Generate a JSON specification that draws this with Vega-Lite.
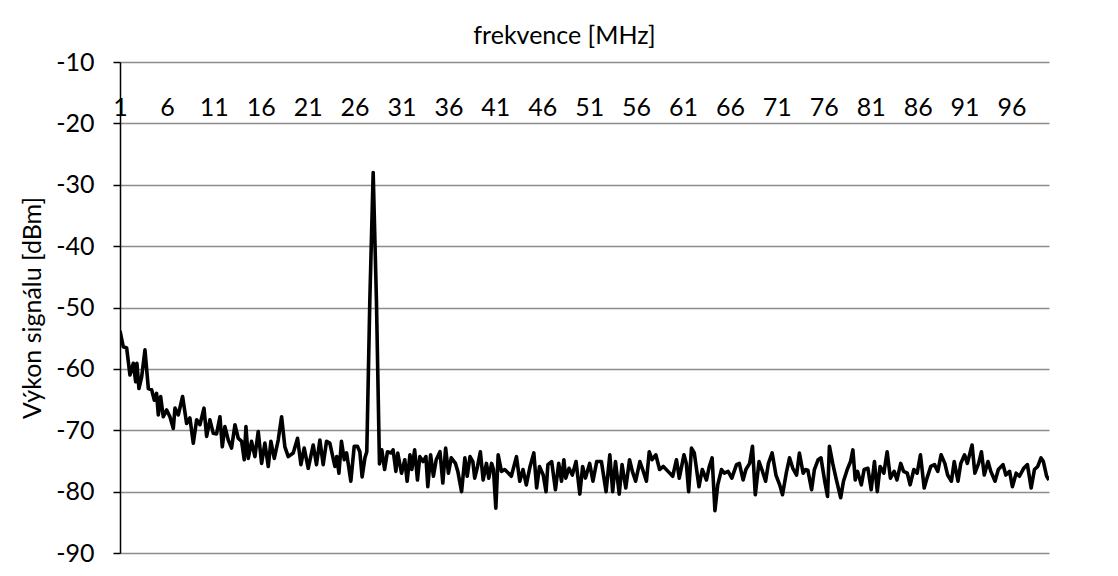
{
  "$schema": "https://vega.github.io/schema/vega-lite/v6.json",
  "width": 929,
  "height": 491,
  "autosize": "none",
  "padding": {"left": 120, "top": 62, "right": 69, "bottom": 23},
  "background": "white",
  "config": {"view": {"stroke": null}, "font": "Lato"},
  "data": {"values": [
    {"f":1.0,"p":-53.8},{"f":1.35,"p":-56.4},{"f":1.71,"p":-56.6},{"f":2.06,"p":-61.0},{"f":2.42,"p":-59.1},{"f":2.67,"p":-62.1},{"f":2.8,"p":-59.1},{"f":3.02,"p":-63.2},{"f":3.31,"p":-61.3},{"f":3.66,"p":-56.9},
    {"f":4.02,"p":-63.2},{"f":4.37,"p":-63.4},{"f":4.66,"p":-65.1},{"f":4.9,"p":-64.0},{"f":5.08,"p":-67.5},{"f":5.33,"p":-64.5},{"f":5.61,"p":-67.8},{"f":5.97,"p":-66.7},{"f":6.32,"p":-67.8},{"f":6.68,"p":-69.7},
    {"f":6.86,"p":-66.4},{"f":7.21,"p":-67.5},{"f":7.67,"p":-64.5},{"f":8.1,"p":-68.9},{"f":8.45,"p":-68.0},{"f":8.81,"p":-72.1},{"f":9.17,"p":-68.3},{"f":9.52,"p":-69.1},{"f":9.95,"p":-66.4},{"f":10.23,"p":-71.0},
    {"f":10.58,"p":-68.3},{"f":10.94,"p":-70.5},{"f":11.29,"p":-70.6},{"f":11.65,"p":-67.8},{"f":11.9,"p":-72.7},{"f":12.18,"p":-69.4},{"f":12.54,"p":-71.6},{"f":12.89,"p":-72.9},{"f":13.25,"p":-69.1},{"f":13.6,"p":-71.3},
    {"f":13.96,"p":-71.8},{"f":14.24,"p":-74.8},{"f":14.42,"p":-69.4},{"f":14.67,"p":-74.6},{"f":15.02,"p":-71.8},{"f":15.38,"p":-74.3},{"f":15.73,"p":-70.2},{"f":16.09,"p":-75.4},{"f":16.44,"p":-72.1},{"f":16.8,"p":-75.9},
    {"f":17.08,"p":-71.8},{"f":17.44,"p":-74.6},{"f":17.86,"p":-71.6},{"f":18.22,"p":-67.8},{"f":18.57,"p":-72.7},{"f":18.93,"p":-74.3},{"f":19.46,"p":-73.7},{"f":19.92,"p":-71.3},{"f":20.28,"p":-75.6},{"f":20.63,"p":-72.9},
    {"f":21.06,"p":-76.2},{"f":21.59,"p":-72.4},{"f":21.94,"p":-75.6},{"f":22.3,"p":-71.6},{"f":22.65,"p":-75.6},{"f":23.01,"p":-71.8},{"f":23.36,"p":-72.1},{"f":23.9,"p":-75.9},{"f":24.1,"p":-74.3},{"f":24.33,"p":-77.0},
    {"f":24.6,"p":-71.8},{"f":24.9,"p":-74.8},{"f":25.15,"p":-73.7},{"f":25.6,"p":-78.3},{"f":25.96,"p":-72.6},{"f":26.3,"p":-72.6},{"f":26.56,"p":-73.5},{"f":26.8,"p":-77.6},{"f":27.1,"p":-74.5},{"f":27.3,"p":-73.5},
    {"f":27.62,"p":-49},{"f":27.98,"p":-28},{"f":28.33,"p":-49},{"f":28.65,"p":-75.5},{"f":28.9,"p":-73.2},{"f":29.2,"p":-76.4},{"f":29.5,"p":-73.5},{"f":29.9,"p":-73.7},{"f":30.1,"p":-73.2},{"f":30.4,"p":-76.7},
    {"f":30.6,"p":-73.7},{"f":31.0,"p":-77.0},{"f":31.35,"p":-74.8},{"f":31.6,"p":-78.3},{"f":31.9,"p":-74.0},{"f":32.1,"p":-76.4},{"f":32.4,"p":-73.2},{"f":32.7,"p":-78.1},{"f":32.95,"p":-74.3},{"f":33.3,"p":-75.1},
    {"f":33.6,"p":-74.3},{"f":33.8,"p":-79.2},{"f":34.1,"p":-74.0},{"f":34.4,"p":-77.5},{"f":34.7,"p":-74.8},{"f":35.1,"p":-73.5},{"f":35.4,"p":-78.6},{"f":35.7,"p":-72.9},{"f":36.0,"p":-77.0},{"f":36.3,"p":-74.5},
    {"f":36.75,"p":-75.4},{"f":37.0,"p":-76.7},{"f":37.4,"p":-80.0},{"f":37.75,"p":-74.5},{"f":38.0,"p":-77.5},{"f":38.3,"p":-74.3},{"f":38.6,"p":-75.1},{"f":38.8,"p":-77.8},{"f":39.1,"p":-75.9},{"f":39.4,"p":-73.5},
    {"f":39.7,"p":-78.1},{"f":40.05,"p":-75.4},{"f":40.3,"p":-77.8},{"f":40.6,"p":-75.4},{"f":40.8,"p":-76.4},{"f":41.05,"p":-82.7},{"f":41.3,"p":-74.0},{"f":41.65,"p":-76.7},{"f":42.0,"p":-76.4},{"f":42.4,"p":-77.0},
    {"f":42.7,"p":-77.5},{"f":43.25,"p":-74.3},{"f":43.6,"p":-78.3},{"f":43.95,"p":-76.4},{"f":44.3,"p":-78.9},{"f":44.7,"p":-75.9},{"f":45.1,"p":-73.7},{"f":45.4,"p":-79.4},{"f":45.7,"p":-75.9},{"f":46.1,"p":-77.3},
    {"f":46.4,"p":-80.0},{"f":46.6,"p":-75.6},{"f":47.0,"p":-75.1},{"f":47.4,"p":-79.7},{"f":47.75,"p":-75.4},{"f":48.05,"p":-78.3},{"f":48.3,"p":-74.8},{"f":48.5,"p":-77.8},{"f":48.85,"p":-76.2},{"f":49.2,"p":-77.3},
    {"f":49.6,"p":-75.1},{"f":50.0,"p":-80.4},{"f":50.3,"p":-75.9},{"f":50.6,"p":-77.8},{"f":51.05,"p":-75.4},{"f":51.4,"p":-78.3},{"f":51.8,"p":-75.1},{"f":52.3,"p":-75.1},{"f":52.8,"p":-80.0},{"f":53.2,"p":-74.0},
    {"f":53.5,"p":-80.0},{"f":53.8,"p":-75.1},{"f":54.2,"p":-80.4},{"f":54.5,"p":-75.6},{"f":54.9,"p":-79.4},{"f":55.3,"p":-74.8},{"f":55.6,"p":-76.7},{"f":55.95,"p":-78.3},{"f":56.4,"p":-75.1},{"f":56.7,"p":-76.4},
    {"f":57.1,"p":-78.3},{"f":57.4,"p":-73.5},{"f":57.7,"p":-74.8},{"f":58.1,"p":-74.0},{"f":58.5,"p":-76.4},{"f":58.9,"p":-75.9},{"f":59.4,"p":-76.7},{"f":59.9,"p":-77.5},{"f":60.3,"p":-74.8},{"f":60.6,"p":-77.8},
    {"f":61.1,"p":-74.0},{"f":61.35,"p":-75.4},{"f":61.6,"p":-80.0},{"f":61.9,"p":-72.9},{"f":62.2,"p":-73.7},{"f":62.7,"p":-79.2},{"f":63.05,"p":-76.4},{"f":63.5,"p":-78.1},{"f":63.8,"p":-75.9},{"f":64.1,"p":-74.5},
    {"f":64.4,"p":-83.1},{"f":64.7,"p":-78.9},{"f":65.1,"p":-76.4},{"f":65.4,"p":-77.0},{"f":65.8,"p":-76.7},{"f":66.2,"p":-77.8},{"f":66.7,"p":-75.6},{"f":67.0,"p":-75.4},{"f":67.4,"p":-78.1},{"f":67.7,"p":-76.4},
    {"f":68.1,"p":-75.4},{"f":68.4,"p":-72.6},{"f":68.7,"p":-80.5},{"f":69.1,"p":-75.1},{"f":69.4,"p":-76.4},{"f":69.8,"p":-78.3},{"f":70.1,"p":-75.4},{"f":70.5,"p":-73.7},{"f":70.9,"p":-77.3},{"f":71.3,"p":-78.9},
    {"f":71.6,"p":-80.5},{"f":72.0,"p":-77.0},{"f":72.35,"p":-74.5},{"f":72.7,"p":-76.2},{"f":73.1,"p":-77.3},{"f":73.4,"p":-73.7},{"f":73.8,"p":-77.0},{"f":74.05,"p":-76.4},{"f":74.3,"p":-76.5},{"f":74.7,"p":-79.7},
    {"f":75.0,"p":-76.4},{"f":75.4,"p":-74.8},{"f":75.7,"p":-74.5},{"f":76.1,"p":-78.3},{"f":76.4,"p":-80.8},{"f":76.6,"p":-72.6},{"f":76.95,"p":-75.4},{"f":77.3,"p":-77.8},{"f":77.8,"p":-81.0},{"f":78.1,"p":-78.3},
    {"f":78.5,"p":-76.4},{"f":78.85,"p":-75.1},{"f":79.1,"p":-73.2},{"f":79.35,"p":-78.1},{"f":79.6,"p":-76.7},{"f":80.0,"p":-78.9},{"f":80.3,"p":-76.4},{"f":80.7,"p":-76.2},{"f":81.05,"p":-79.7},{"f":81.4,"p":-75.1},
    {"f":81.7,"p":-80.0},{"f":82.0,"p":-75.9},{"f":82.4,"p":-77.0},{"f":82.75,"p":-73.5},{"f":83.1,"p":-77.8},{"f":83.5,"p":-76.7},{"f":83.8,"p":-78.1},{"f":84.2,"p":-75.4},{"f":84.5,"p":-76.7},{"f":84.9,"p":-77.0},
    {"f":85.2,"p":-78.9},{"f":85.6,"p":-76.4},{"f":85.95,"p":-77.0},{"f":86.3,"p":-74.0},{"f":86.7,"p":-79.4},{"f":87.0,"p":-77.8},{"f":87.4,"p":-75.9},{"f":87.8,"p":-75.6},{"f":88.15,"p":-76.7},{"f":88.5,"p":-74.0},
    {"f":88.9,"p":-75.4},{"f":89.2,"p":-77.3},{"f":89.6,"p":-78.3},{"f":89.9,"p":-75.1},{"f":90.3,"p":-78.3},{"f":90.6,"p":-75.4},{"f":91.0,"p":-74.0},{"f":91.3,"p":-75.4},{"f":91.8,"p":-72.4},{"f":92.1,"p":-77.0},
    {"f":92.5,"p":-75.4},{"f":92.8,"p":-73.5},{"f":93.1,"p":-77.3},{"f":93.5,"p":-75.1},{"f":93.8,"p":-76.7},{"f":94.25,"p":-78.3},{"f":94.6,"p":-76.4},{"f":95.1,"p":-75.6},{"f":95.4,"p":-77.3},{"f":95.8,"p":-76.7},
    {"f":96.1,"p":-79.2},{"f":96.5,"p":-77.0},{"f":96.85,"p":-77.5},{"f":97.3,"p":-76.2},{"f":97.7,"p":-75.6},{"f":98.1,"p":-79.4},{"f":98.45,"p":-76.4},{"f":98.8,"p":-75.9},{"f":99.15,"p":-74.5},{"f":99.4,"p":-75.1},
    {"f":99.75,"p":-77.5},{"f":100.0,"p":-78.1}
  ]},
  "mark": {"type": "line", "color": "black", "strokeWidth": 3.6, "strokeJoin": "round", "clip": true},
  "encoding": {
    "x": {
      "field": "f", "type": "quantitative",
      "scale": {"domain": [1, 100], "nice": false, "zero": false},
      "axis": {
        "orient": "top",
        "values": [1, 6, 11, 16, 21, 26, 31, 36, 41, 46, 51, 56, 61, 66, 71, 76, 81, 86, 91, 96],
        "domain": false, "ticks": false, "tickSize": 0, "grid": false,
        "labelPadding": -53, "labelBaseline": "alphabetic", "labelFlush": false, "labelOverlap": false,
        "labelFont": "Lato", "labelFontSize": 25, "labelColor": "black",
        "title": "frekvence [MHz]", "titleFont": "Lato", "titleFontSize": 25, "titleFontWeight": "normal", "titleColor": "black",
        "titleX": 444, "titleY": -19, "titleAlign": "center", "titleBaseline": "alphabetic"
      }
    },
    "y": {
      "field": "p", "type": "quantitative",
      "scale": {"domain": [-90, -10], "nice": false, "zero": false},
      "axis": {
        "values": [-90, -80, -70, -60, -50, -40, -30, -20, -10],
        "labelExpr": "'' + datum.value",
        "domain": true, "domainColor": "black", "domainWidth": 1.5,
        "ticks": true, "tickSize": 7, "tickColor": "black", "tickWidth": 1.5,
        "grid": true, "gridColor": "#8c8c8c", "gridWidth": 1.5,
        "labelPadding": 19, "labelFont": "Lato", "labelFontSize": 25, "labelColor": "black",
        "title": "Výkon signálu [dBm]", "titleFont": "Lato", "titleFontSize": 25, "titleFontWeight": "normal", "titleColor": "black",
        "titleX": -88, "titleY": 245.5, "titleAngle": -90, "titleAlign": "center", "titleBaseline": "middle"
      }
    }
  }
}
